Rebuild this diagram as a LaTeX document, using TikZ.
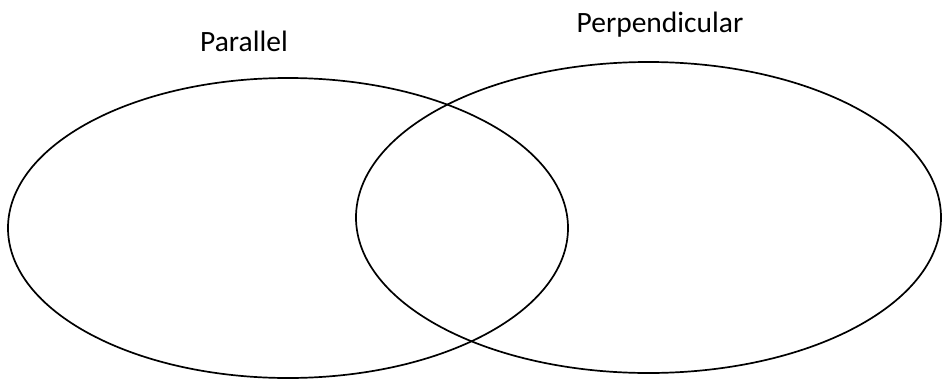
\documentclass[tikz,border=0pt]{standalone}
\usepackage{fontspec}
\setmainfont{Carlito}
\usetikzlibrary{shapes.geometric}
\begin{document}
\begin{tikzpicture}[x=1pt,y=-1pt,
  setellipse/.style={draw=black, line width=1.7pt, ellipse, inner sep=0pt},
  setlabel/.style={font=\fontsize{29.5}{33}\selectfont, anchor=base, inner sep=0pt}]
\useasboundingbox (0,0) rectangle (942,380);
\node[setellipse, minimum width=560pt, minimum height=300pt] (par) at (288,228) {};
\node[setellipse, minimum width=585pt, minimum height=311pt] (perp) at (648.5,217.5) {};
\node[setlabel] (parlab) at (244,51) {Parallel};
\node[setlabel] (perplab) at (660,32) {Perpendicular};
\end{tikzpicture}
\end{document}
